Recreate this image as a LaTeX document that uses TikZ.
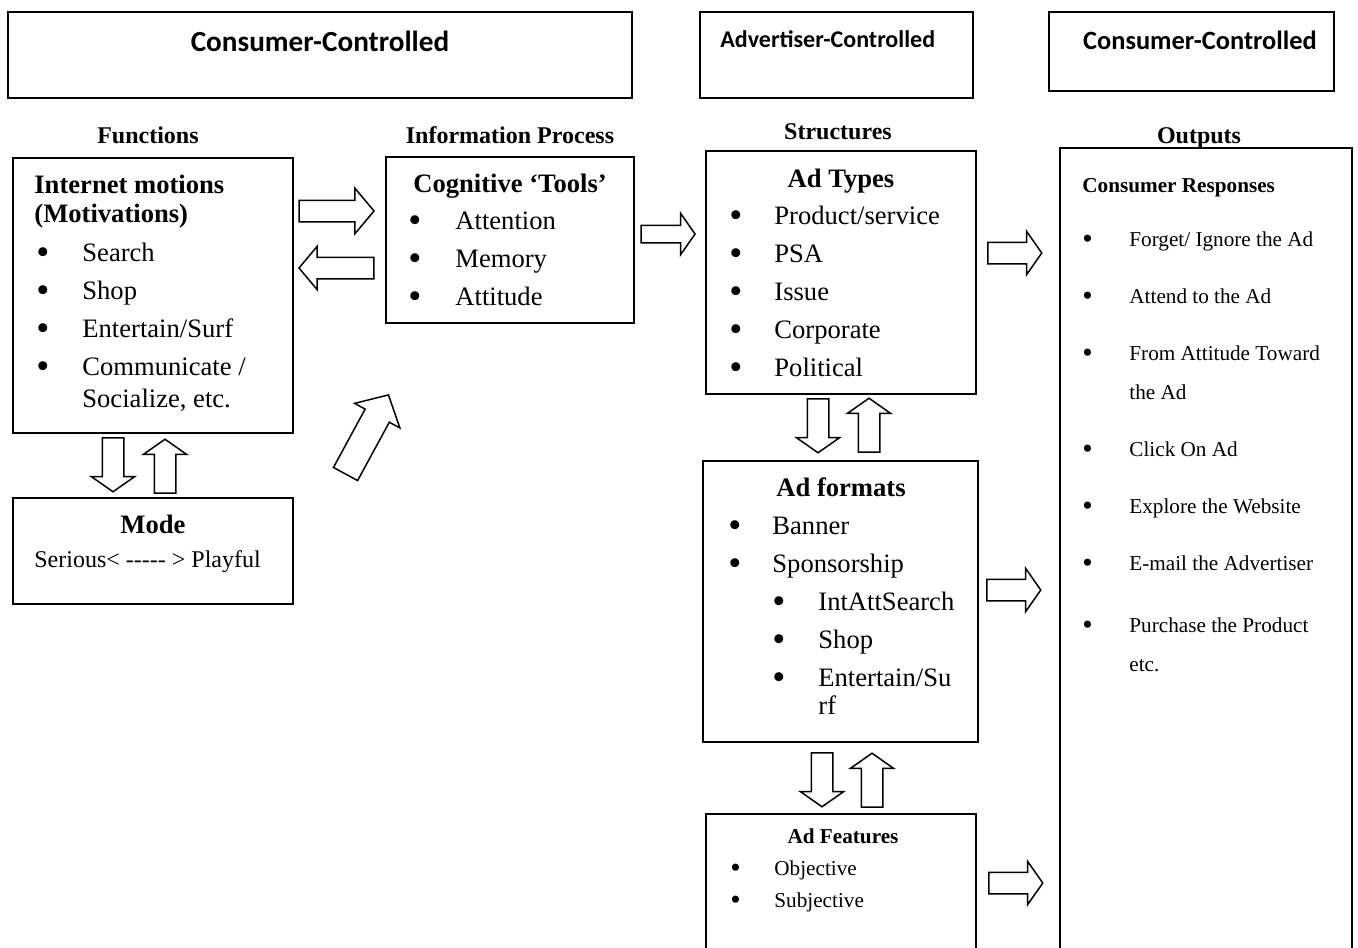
\documentclass[tikz,border=0pt]{standalone}
\usepackage{fontspec}
\setmainfont{Liberation Serif}
\newfontfamily\calib{Carlito}
\usetikzlibrary{shapes.arrows, fit}
\newcommand\bul{\raisebox{-0.12em}{\scalebox{1.4}{\textbullet}}}

\begin{document}
\begin{tikzpicture}[x=0.5pt, y=-0.5pt,
     box/.style = {draw, line width=1pt, inner sep=0pt, outer sep=0pt},
     hdr/.style = {font=\calib\bfseries\fontsize{#1}{#1}\selectfont, inner sep=0pt},
   title/.style = {font=\bfseries\fontsize{12}{14}\selectfont, inner sep=0pt, anchor=base},
    head/.style = {font=\bfseries\fontsize{13.3}{14.5}\selectfont, inner sep=0pt, anchor=base},
    body/.style = {font=\fontsize{13.3}{19}\selectfont, inner sep=0pt, anchor=base west},
   small/.style = {font=\fontsize{10.6}{16}\selectfont, inner sep=0pt, anchor=base west},
     arr/.style = {draw, single arrow, line width=0.75pt, inner xsep=0pt, inner ysep=5pt,
                   outer sep=0pt, minimum height=27pt, single arrow head extend=5.5pt,
                   single arrow tip angle=110}
                        ]
\useasboundingbox (0,0) rectangle (1358,947);
\fill[white] (0,0) rectangle (1358,947);
\clip (0,0) rectangle (1358,947);
% header boxes
    \node[box, fit={(8,12) (632,98)}] (hcons) {};
    \node[box, fit={(700,12) (973,98)}] (hadv) {};
    \node[box, fit={(1049,12) (1334,91)}] (hout) {};
    \node[hdr=14.6, anchor=base] (hconst) at (320,52) {Consumer-Controlled};
    \node[hdr=12, anchor=base west] (hadvt) at (720,48) {Advertiser-Controlled};
    \node[hdr=13.2, anchor=base] (houtt) at (1200,49.5) {Consumer-Controlled};
% column titles
    \node[title] (tfun) at (148,143) {Functions};
    \node[title] (tinf) at (510,143) {Information Process};
    \node[title] (tstr) at (838,140) {Structures};
    \node[title] (tout) at (1199,143) {Outputs};
% boxes
    \node[box, fit={(13,158) (293,433)}] (fun) {};
    \node[box, fit={(386,157) (634,323)}] (cog) {};
    \node[box, fit={(706,151) (976,394)}] (typ) {};
    \node[box, fit={(703,461) (978,742)}] (fmt) {};
    \node[box, fit={(706,814) (976,960)}] (fea) {};
    \node[box, fit={(1060,148) (1352,960)}] (out) {};
    \node[box, fit={(13,498) (293,604)}] (mod) {};
% functions
    \node[head, anchor=base west] (funhead) at (34,193)
        {\begin{tabular}[t]{@{}l@{}}Internet motions\\(Motivations)\end{tabular}};
    \node[body] (funlist) at (36,261) {\begin{tabular}[t]{@{}p{23pt}@{}l@{}}
        \bul & Search\\ \bul & Shop\\ \bul & Entertain/Surf\\
        \bul & Communicate /\\[-3pt] & Socialize, etc.\end{tabular}};
% mode
    \node[head] (modhead) at (153,533) {Mode};
    \node[body, font=\fontsize{12}{14}\selectfont] (modtxt) at (34,567) {Serious< -{}-{}-{}-{}- > Playful};
% cognitive tools
    \node[head] (coghead) at (510,192) {Cognitive ‘Tools’};
    \node[body] (coglist) at (408,229) {\begin{tabular}[t]{@{}p{23.5pt}@{}l@{}}
        \bul & Attention\\ \bul & Memory\\ \bul & Attitude\end{tabular}};
% ad types
    \node[head] (typhead) at (841,187) {Ad Types};
    \node[body] (typlist) at (729,224) {\begin{tabular}[t]{@{}p{22.5pt}@{}l@{}}
        \bul & Product/service\\ \bul & PSA\\ \bul & Issue\\
        \bul & Corporate\\ \bul & Political\end{tabular}};
% ad formats
    \node[head] (fmthead) at (841,496) {Ad formats};
    \node[body] (fmtlist) at (728,534) {\begin{tabular}[t]{@{}p{22pt}@{}p{23pt}@{}l@{}}
        \bul & \multicolumn{2}{@{}l@{}}{Banner}\\
        \bul & \multicolumn{2}{@{}l@{}}{Sponsorship}\\
        & \bul & IntAttSearch\\ & \bul & Shop\\
        & \bul & Entertain/Su\\[-5pt] & & rf\end{tabular}};
% ad features
    \node[head, font=\bfseries\fontsize{10.6}{12}\selectfont] (feahead) at (843,843) {Ad Features};
    \node[small] (fealist) at (730,875) {\begin{tabular}[t]{@{}p{22pt}@{}l@{}}
        \bul & Objective\\ \bul & Subjective\end{tabular}};
% outputs
    \node[head, anchor=base west, font=\bfseries\fontsize{10.6}{12}\selectfont] (outhead) at (1082,192) {Consumer Responses};
    \node[small, font=\fontsize{10.6}{19.5}\selectfont] (outlist) at (1082,246) {\begin{tabular}[t]{@{}p{23.5pt}@{}l@{}}
        \bul & Forget/ Ignore the Ad\\[9pt]
        \bul & Attend to the Ad\\[9pt]
        \bul & From Attitude Toward\\ & the Ad\\[9pt]
        \bul & Click On Ad\\[9pt]
        \bul & Explore the Website\\[9pt]
        \bul & E-mail the Advertiser\\[11.5pt]
        \bul & Purchase the Product\\ & etc.\end{tabular}};
% block arrows
    \node[arr, minimum height=37.5pt, single arrow tip angle=100, single arrow head extend=6pt] (funcog) at (332,211) {};
    \node[arr, minimum height=37.5pt, single arrow tip angle=100, rotate=180] (cogfun) at (341,268) {};
    \node[arr, inner ysep=4pt, single arrow head extend=6pt] (cogtyp) at (665,234) {};
    \node[arr, minimum height=45pt, inner ysep=6.5pt, single arrow head extend=6pt,
          single arrow tip angle=95, rotate=61.5] (modcog) at (364,440) {};
    \node[arr, rotate=-90] (funmod) at (113,461) {};
    \node[arr, rotate=90] (modfun) at (165,470) {};
    \node[arr, rotate=-90] (typfmt) at (818,422) {};
    \node[arr, rotate=90] (fmttyp) at (869,429) {};
    \node[arr, rotate=-90] (fmtfea) at (822,776) {};
    \node[arr, rotate=90] (feafmt) at (872,784) {};
    \node[arr] (typout) at (1011,253) {};
    \node[arr] (fmtout) at (1010,590) {};
    \node[arr] (feaout) at (1012,883) {};
\end{tikzpicture}
\end{document}
